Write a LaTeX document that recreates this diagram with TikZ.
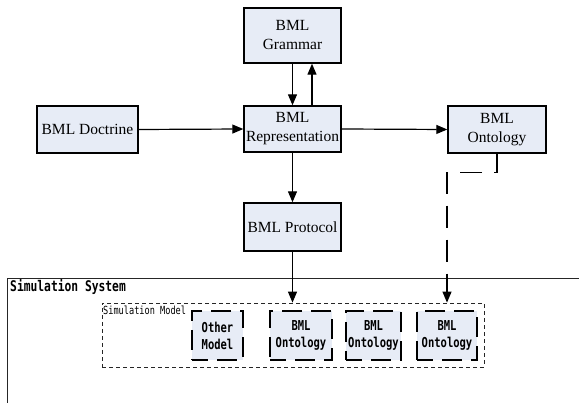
\documentclass[tikz,border=0pt]{standalone}
\usepackage{fontspec}
\usepackage{graphicx}
\setmainfont{Liberation Serif}
\newfontfamily\gothic{DejaVu Sans Mono}
\newcommand\tallg[1]{\scalebox{1}[1.3]{#1}}
\usetikzlibrary{arrows.meta}
\definecolor{boxfill}{HTML}{E7ECF6}
\begin{document}
\begin{tikzpicture}[x=1pt,y=-1pt,
  mainbox/.style={draw=black, line width=1.4pt, fill=boxfill, align=center, inner sep=0pt,
    font=\fontsize{15.5}{19}\selectfont},
  innerbox/.style={draw=black, line width=1.6pt, fill=boxfill, align=center, inner sep=0pt,
    dash pattern=on 20pt off 9pt, dash phase=4pt, minimum height=49pt,
    font=\gothic\fontsize{10.5}{17}\selectfont},
  arr/.style={line width=1.2pt, -{Triangle[length=11pt,width=9pt]}},
  darr/.style={line width=1.2pt, dash pattern=on 22pt off 12pt, -{Triangle[length=11pt,width=9pt]}}]
\useasboundingbox (0,0) rectangle (579,403);
\clip (0,0) rectangle (579,403);
% main boxes
\node[mainbox, minimum width=97pt, minimum height=55pt] (grammar) at (292.5,35.5) {BML\\Grammar};
\node[mainbox, minimum width=97pt, minimum height=46pt] (rep) at (292.5,129) {BML\\Representation};
\node[mainbox, minimum width=101pt, minimum height=47pt] (doctrine) at (87.5,129.5) {BML Doctrine};
\node[mainbox, minimum width=98pt, minimum height=47pt] (onto) at (497,129.5) {BML\\Ontology};
\node[mainbox, minimum width=97pt, minimum height=48pt] (protocol) at (292.5,227) {BML Protocol};
% simulation system
\draw[line width=0.9pt, draw=black!85] (7,278) rectangle (600,420);
\node[anchor=base west, inner sep=0pt, font=\gothic\bfseries\fontsize{11.3}{12}\selectfont] (simsyslabel) at (10,292) {\tallg{Simulation System}};
\node[draw=black!85, line width=0.8pt, dash pattern=on 4pt off 3pt, minimum width=382pt, minimum height=64pt, inner sep=0pt] (simmodel) at (293,335) {};
\node[anchor=base west, inner sep=0pt, font=\gothic\fontsize{8.6}{9}\selectfont] (simmodellabel) at (103,315) {\tallg{Simulation Model}};
\node[innerbox, minimum width=51pt] (other) at (217.5,335.5) {\tallg{\bfseries Other}\\\tallg{\bfseries Model}};
\node[innerbox, minimum width=62pt] (bo1) at (301,335.5) {\tallg{\bfseries BML}\\\tallg{\bfseries Ontology}};
\node[innerbox, minimum width=55pt] (bo2) at (373.5,335.5) {\tallg{\bfseries BML}\\\tallg{\bfseries Ontology}};
\node[innerbox, minimum width=60pt] (bo3) at (447,335.5) {\tallg{\bfseries BML}\\\tallg{\bfseries Ontology}};
% connectors
\draw[arr] (grammar.south) -- (rep.north);
\draw[arr] ([xshift=19.5pt]rep.north) -- ([xshift=19.5pt]grammar.south);
\draw[arr] (doctrine.east) -- (rep.west);
\draw[arr] (rep.east) -- (onto.west);
\draw[arr] (rep.south) -- (protocol.north);
\draw[arr] (protocol.south) -- (protocol.south |- simmodel.north);
\draw[darr] (onto.south) -- ++(0,19) -| (bo3.north |- simmodel.north);
\end{tikzpicture}
\end{document}
